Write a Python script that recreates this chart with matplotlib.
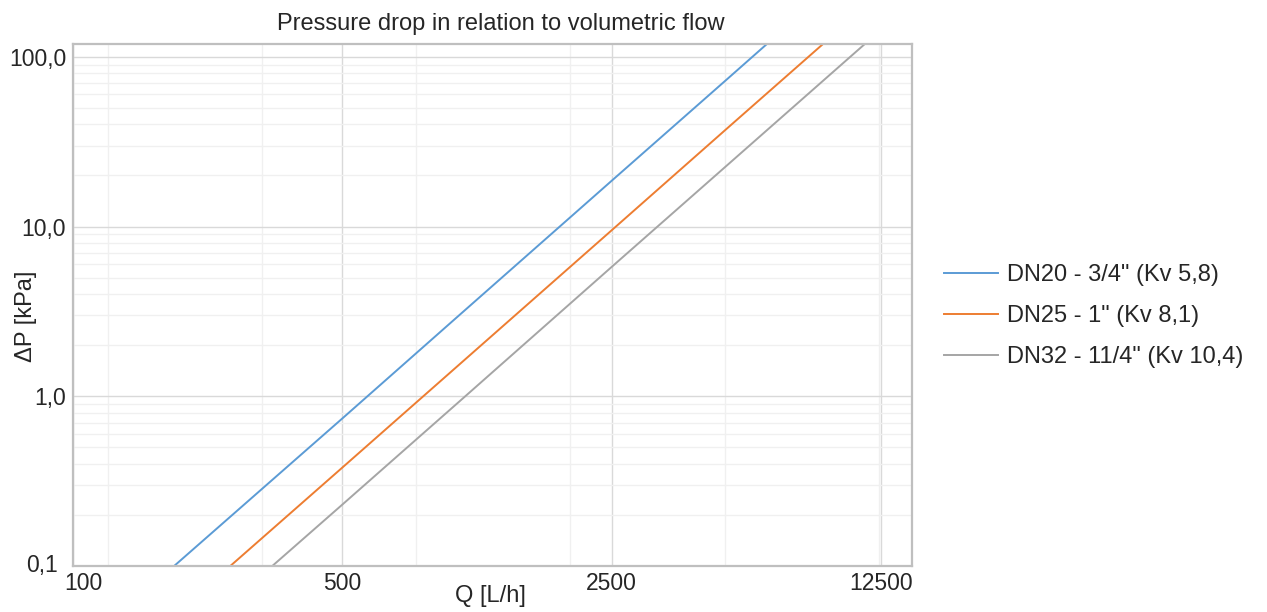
import numpy as np
import matplotlib.pyplot as plt
from matplotlib import transforms
from matplotlib.ticker import FixedLocator, NullFormatter

plt.rcParams['font.family'] = ['Liberation Sans', 'DejaVu Sans']

# -------------------------
# Data
# -------------------------
series_labels = ['DN20 - 3/4" (Kv 5,8)', 'DN25 - 1" (Kv 8,1)', 'DN32 - 11/4" (Kv 10,4)']
series_colors = ['#5B9BD5', '#ED7D31', '#A5A5A5']

q_dn20 = [183, 500, 1000, 2500, 5000, 6350]
dp_dn20 = [0.10, 0.74, 2.97, 18.6, 74.3, 120]

q_dn25 = [256, 500, 1000, 2500, 5000, 8880]
dp_dn25 = [0.10, 0.38, 1.52, 9.5, 38.1, 120]

q_dn32 = [329, 500, 1000, 2500, 5000, 11400]
dp_dn32 = [0.10, 0.23, 0.92, 5.78, 23.1, 120]

x_major = [100, 500, 2500, 12500]
x_major_labels = ['100', '500', '2500', '12500']
x_minor = [123, 310, 778, 1955, 4910, 12340]

y_major = [0.1, 1, 10, 100]
y_major_labels = ['0,1', '1,0', '10,0', '100,0']
y_minor = [m * d for d in (0.1, 1, 10) for m in range(2, 10)]

# -------------------------
# Figure
# -------------------------
text_col = '#262626'
fig = plt.figure(figsize=(12.67, 6.12), dpi=100)
ax = fig.add_axes([73 / 1267, 1 - 566 / 612, (912 - 73) / 1267, (566 - 44) / 612])

for q, dp, lab, col in zip([q_dn20, q_dn25, q_dn32], [dp_dn20, dp_dn25, dp_dn32],
                           series_labels, series_colors):
    ax.plot(q, dp, color=col, lw=1.4, label=lab)

ax.set_xscale('log')
ax.set_yscale('log')
ax.set_xlim(100, 15050)
ax.set_ylim(0.1, 119)

ax.xaxis.set_major_locator(FixedLocator(x_major))
ax.set_xticklabels(x_major_labels)
ax.xaxis.set_minor_locator(FixedLocator(x_minor))
ax.xaxis.set_minor_formatter(NullFormatter())
ax.yaxis.set_major_locator(FixedLocator(y_major))
ax.set_yticklabels(y_major_labels)
ax.yaxis.set_minor_locator(FixedLocator(y_minor))
ax.yaxis.set_minor_formatter(NullFormatter())

ax.tick_params(which='both', length=0, labelsize=16.5, colors=text_col)
ax.tick_params(axis='x', pad=4.5)
ax.tick_params(axis='y', pad=5)

# Excel nudges the corner labels away from each other
lbl0 = ax.get_xticklabels()[0]
lbl0.set_transform(lbl0.get_transform() + transforms.ScaledTranslation(10 / 100, 0, fig.dpi_scale_trans))
ylbl0 = ax.get_yticklabels()[0]
ylbl0.set_transform(ylbl0.get_transform() + transforms.ScaledTranslation(-8 / 100, 3 / 100, fig.dpi_scale_trans))

ax.grid(which='major', color='#d9d9d9', lw=1.0)
ax.grid(which='minor', color='#f0f0f0', lw=1.0)
ax.set_axisbelow(True)

for s in ax.spines.values():
    s.set_color('#bfbfbf')
    s.set_linewidth(1.6)

ax.set_title('Pressure drop in relation to volumetric flow', fontsize=17, color=text_col,
             pad=10, x=(501 - 73) / 839)

ax.set_xlabel('Q [L/h]', fontsize=17, color=text_col, va='center')
ax.xaxis.set_label_coords((490 - 73) / 839, (566 - 596) / 522)
ax.set_ylabel('ΔP [kPa]', fontsize=17, color=text_col, va='center')
ax.yaxis.set_label_coords((26 - 73) / 839, (566 - 316) / 522)

ax.legend(loc='center left', bbox_to_anchor=(932 / 1267, 1 - 316 / 612),
          bbox_transform=fig.transFigure, frameon=False, fontsize=17,
          handlelength=2.3, handletextpad=0.38, labelspacing=0.8, borderpad=0,
          labelcolor=text_col)

fig.savefig('out.png', dpi=100)
